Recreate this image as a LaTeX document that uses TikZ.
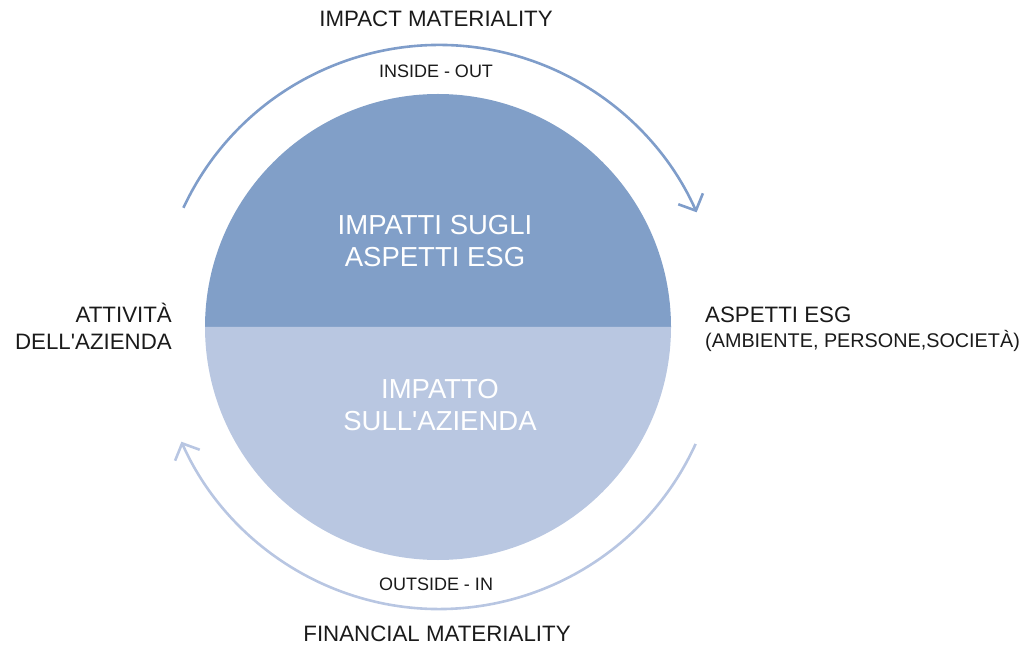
\documentclass[tikz,border=0pt]{standalone}
\usepackage{fontspec}
\setmainfont{Liberation Sans}
\usetikzlibrary{arrows.meta}
\definecolor{topblue}{HTML}{819FC8}
\definecolor{botblue}{HTML}{B9C7E1}
\definecolor{toparc}{HTML}{7F9DCA}
\definecolor{botarc}{HTML}{B8C6E2}
\definecolor{ink}{HTML}{1A1A1A}
\tikzset{
  bigtitle/.style={font=\fontsize{22.3}{27}\selectfont, text=ink, inner sep=0pt},
  smalltitle/.style={font=\fontsize{18}{21}\selectfont, text=ink, inner sep=0pt},
  incircle/.style={font=\fontsize{27.5}{32}\selectfont, text=white, inner sep=0pt, align=center},
  arcline/.style={line width=2.6pt, -{Straight Barb[length=13pt,width=27pt,line width=2.6pt]}}
}
\begin{document}
\begin{tikzpicture}[x=1pt,y=1pt]
\useasboundingbox (0,0) rectangle (1028,646);
\coordinate (cc) at (438,319);
\coordinate (ac) at (439,319);
% circle halves
\fill[topblue] ([shift={(180:233)}]cc) arc[start angle=180,end angle=0,radius=233] -- cycle;
\fill[botblue] ([shift={(180:233)}]cc) arc[start angle=180,end angle=360,radius=233] -- cycle;
% arcs
\draw[toparc, arcline] ([shift={(155:282)}]ac) arc[start angle=155,end angle=24,radius=282];
\draw[botarc, arcline] ([shift={(-24.5:282)}]ac) arc[start angle=-24.5,end angle=-156,radius=282];
% texts
\node[bigtitle, anchor=base] (impact) at (436,619) {IMPACT MATERIALITY};
\node[smalltitle, anchor=base] (inout) at (436,568) {INSIDE - OUT};
\node[smalltitle, anchor=base] (outin) at (436,56) {OUTSIDE - IN};
\node[bigtitle, anchor=base] (financial) at (437,5) {FINANCIAL MATERIALITY};
\node[bigtitle, anchor=base east, align=right] (attivita) at (172,296) {ATTIVITÀ\\DELL\textquotesingle AZIENDA};
\node[bigtitle, font=\fontsize{22.3}{25}\selectfont, anchor=base west, align=left] (esg) at (705,298) {ASPETTI ESG\\{\fontsize{19.8}{25}\selectfont(AMBIENTE, PERSONE,SOCIETÀ)}};
\node[incircle, anchor=base] (impatti) at (435,379) {IMPATTI SUGLI\\ASPETTI ESG};
\node[incircle, anchor=base] (impatto) at (440,215) {IMPATTO\\SULL\textquotesingle AZIENDA};
\end{tikzpicture}
\end{document}
